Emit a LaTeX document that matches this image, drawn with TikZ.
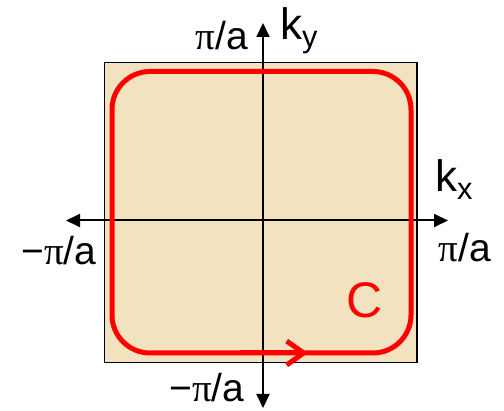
\documentclass[tikz,border=0pt]{standalone}
\usepackage{fontspec}
\setmainfont{Liberation Sans}
\newfontfamily\piffont{Liberation Serif}
\usetikzlibrary{arrows.meta}
\definecolor{zonebg}{HTML}{F2E2BF}
\newcommand{\mypi}{{\piffont π}}
\tikzset{
  axisline/.style={line width=2pt, {Triangle[length=14pt,width=13pt]}-{Triangle[length=14pt,width=13pt]}},
  lbl/.style={inner sep=0pt, anchor=base, font=\fontsize{39}{39}\selectfont},
  klbl/.style={inner sep=0pt, anchor=base west, font=\fontsize{44}{44}\selectfont},
  contour/.style={draw=red, line width=5pt, rounded corners=38pt}
}
\begin{document}
\begin{tikzpicture}[x=1pt,y=-1pt]
\useasboundingbox (0,0) rectangle (504,411);
\draw[fill=zonebg, line width=1.3pt] (104.5,62.5) rectangle (417,362.5);
\coordinate (xl) at (66,220.5);
\coordinate (xr) at (448,220.5);
\coordinate (yt) at (263,23);
\coordinate (yb) at (263,408);
\draw[axisline] (xl) -- (xr);
\draw[axisline] (yt) -- (yb);
\draw[contour] (112,71.5) rectangle (411,353);
\coordinate (arrS) at (240,353);
\coordinate (arrE) at (308,353);
\draw[red, line width=5pt, -{Straight Barb[length=17pt,width=24pt]}] (arrS) -- (arrE);
\node[lbl] (pitop) at (222,50) {\mypi/a};
\node[klbl] (ky) at (280,40) {k\textsubscript{y}};
\node[klbl] (kx) at (435,192) {k\textsubscript{x}};
\node[lbl] (piright) at (465,262) {\mypi/a};
\node[lbl] (pileft) at (59,265) {−\mypi/a};
\node[lbl] (pibot) at (207,402) {−\mypi/a};
\node[lbl, red, font=\fontsize{50}{50}\selectfont] (C) at (365,318) {C};
\end{tikzpicture}
\end{document}
